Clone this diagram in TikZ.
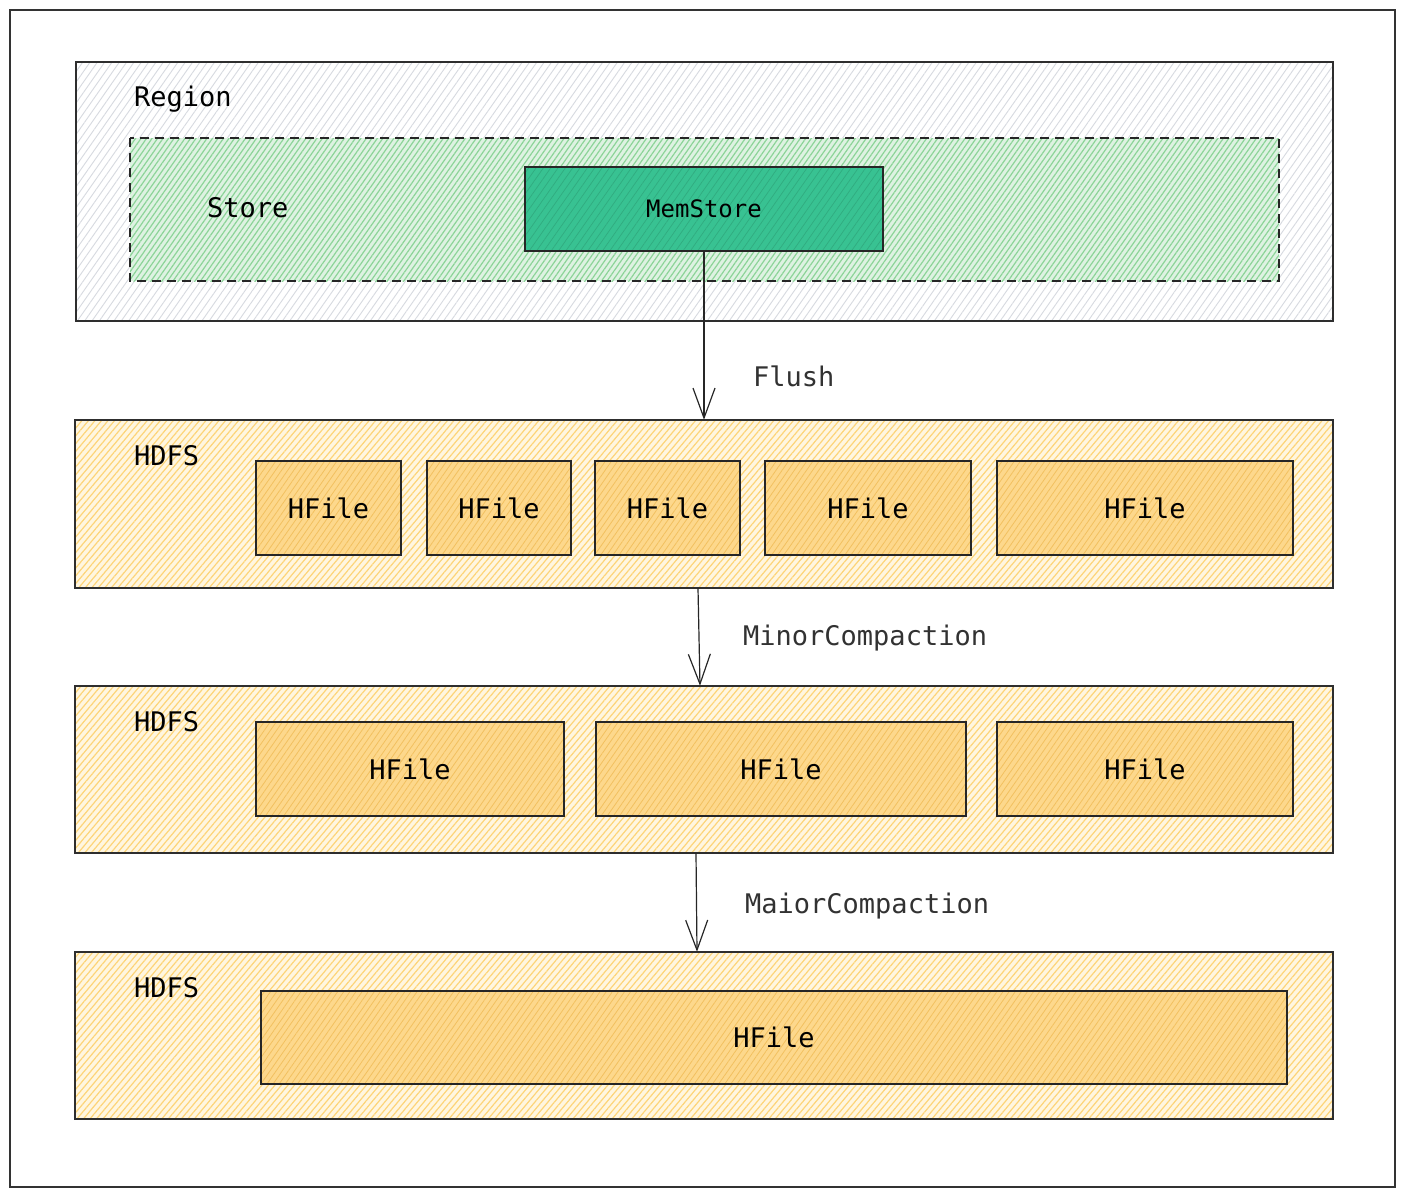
\documentclass[tikz,border=0pt]{standalone}
\usepackage{fontspec}
\setmonofont{DejaVu Sans Mono}
\usetikzlibrary{patterns.meta,arrows.meta}
\definecolor{memgreen}{RGB}{56,194,146}
\definecolor{storeline}{RGB}{140,212,152}
\definecolor{storefill}{RGB}{222,242,226}
\definecolor{hdfsline}{RGB}{253,212,120}
\definecolor{hdfsfill}{RGB}{255,246,224}
\definecolor{hfilefill}{RGB}{253,216,140}
\definecolor{hfileline}{RGB}{242,192,95}
\definecolor{regline}{RGB}{215,218,224}
\definecolor{labgray}{RGB}{50,50,50}
\tikzset{
  txt/.style={font=\ttfamily\fontsize{27}{30}\selectfont, inner sep=0pt},
  edge line/.style={postaction={draw=black!82, line width=1.2pt}},
  regionbox/.style={fill=white, postaction={draw=none, pattern={Lines[angle=55,distance=6pt,line width=0.9pt]}, pattern color=regline}, edge line},
  storebox/.style={fill=storefill, postaction={draw=none, pattern={Lines[angle=55,distance=4.5pt,line width=1.2pt]}, pattern color=storeline}, postaction={draw=black!85, line width=1.2pt, dash pattern=on 9pt off 6pt}},
  memboxst/.style={fill=memgreen, postaction={draw=none, pattern={Lines[angle=55,distance=6pt,line width=0.7pt]}, pattern color=memgreen!88!black}, postaction={draw=black!85, line width=1.3pt}},
  hdfsbox/.style={fill=hdfsfill, postaction={draw=none, pattern={Lines[angle=50,distance=5pt,line width=1.2pt]}, pattern color=hdfsline}, edge line},
  hfilebox/.style={fill=hfilefill, postaction={draw=none, pattern={Lines[angle=55,distance=5pt,line width=0.8pt]}, pattern color=hfileline}, postaction={draw=black!85, line width=1.2pt}},
  flow/.style={draw=black!85, line width=1.2pt, -{Straight Barb[length=30pt,width=22pt,line width=1.2pt]}},
}
\begin{document}
\begin{tikzpicture}[x=1pt,y=-1pt]
\useasboundingbox (0,0) rectangle (1405,1195);
\draw[line width=1.3pt, draw=black!80] (10,10) rectangle (1395,1187);

% Region
\path[regionbox] (76,62) rectangle (1333,321);
\node[txt, anchor=base west] (lregion) at (134,106) {Region};
\path[storebox] (130,138) rectangle (1279,281);
\node[txt, anchor=base west] (lstore) at (207,217) {Store};
\node[memboxst, minimum width=358pt, minimum height=84pt, inner sep=0pt,
  font=\ttfamily\fontsize{24}{28}\selectfont] (mem) at (704,209) {MemStore};

% HDFS 1
\node[hdfsbox, minimum width=1258pt, minimum height=168pt, inner sep=0pt] (h1) at (704,504) {};
\node[txt, anchor=base west] at (134,465) {HDFS};
\foreach \xa/\xb [count=\i] in {256/401,427/571,595/740,765/971,997/1293}{
  \node[hfilebox, txt, minimum width={\xb-\xa}, minimum height=94pt] (fa\i) at ({(\xa+\xb)/2},508) {HFile};
}

% HDFS 2
\node[hdfsbox, minimum width=1258pt, minimum height=167pt, inner sep=0pt] (h2) at (704,769.5) {};
\node[txt, anchor=base west] at (134,731) {HDFS};
\foreach \xa/\xb [count=\i] in {256/564,596/966,997/1293}{
  \node[hfilebox, txt, minimum width={\xb-\xa}, minimum height=94pt] (fb\i) at ({(\xa+\xb)/2},769) {HFile};
}

% HDFS 3
\node[hdfsbox, minimum width=1258pt, minimum height=167pt, inner sep=0pt] (h3) at (704,1035.5) {};
\node[txt, anchor=base west] at (134,997) {HDFS};
\node[hfilebox, txt, minimum width=1026pt, minimum height=93pt] (fc1) at (774,1037.5) {HFile};

% arrows
\coordinate (a1s) at (mem.south);
\draw[flow] (a1s) -- (h1.north);
\node[txt, text=labgray, anchor=base west] (lflush) at (753,386) {Flush};
\draw[flow] ([xshift=-6pt]h1.south) -- ([xshift=-4pt]h2.north);
\node[txt, text=labgray, anchor=base west] (lminor) at (743,645) {MinorCompaction};
\draw[flow] ([xshift=-8pt]h2.south) -- ([xshift=-7pt]h3.north);
\node[txt, text=labgray, anchor=base west] (lmajor) at (745,913) {MaiorCompaction};
\end{tikzpicture}
\end{document}
